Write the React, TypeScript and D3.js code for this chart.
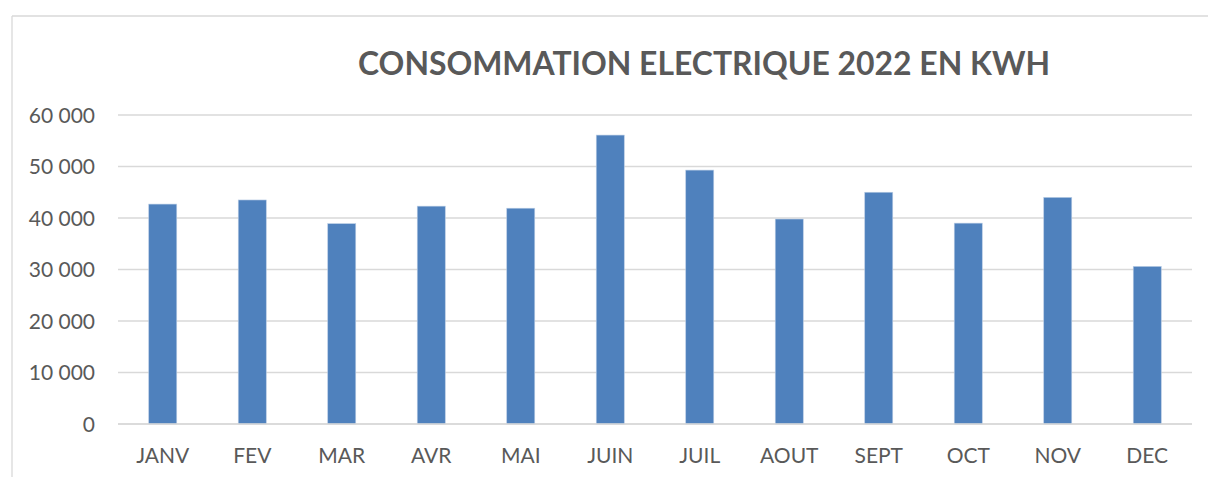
import React from "react";
import * as d3 from "d3";

const months = ["JANV", "FEV", "MAR", "AVR", "MAI", "JUIN", "JUIL", "AOUT", "SEPT", "OCT", "NOV", "DEC"];
const consumption = [42700, 43500, 38900, 42300, 41900, 56100, 49300, 39800, 45000, 39000, 44000, 30600];
const yTicks = [0, 10000, 20000, 30000, 40000, 50000, 60000];
const title = "CONSOMMATION ELECTRIQUE 2022 EN KWH";

const W = 1208;
const H = 477;
const plot = { left: 118, right: 1192, top: 115, bottom: 424 };
const font = "Lato, 'Open Sans', 'Liberation Sans', sans-serif";
const textColor = "#595959";
const gridColor = "#D9D9D9";

const fmt = (v: number) => d3.format(",")(v).replace(/,/g, " ");

export default function App() {
  const p = 0.687;
  const x = d3.scaleBand<string>().domain(months).range([plot.left, plot.right]).paddingInner(p).paddingOuter(p / 2);
  const y = d3.scaleLinear().domain([0, 60000]).range([plot.bottom, plot.top]);

  return (
    <svg width={W} height={H} style={{ position: "absolute", left: 0, top: 0, background: "#fff" }}>
      <rect x={0} y={0} width={W} height={H} fill="#fff" />
      {/* frame */}
      <line x1={12} y1={16} x2={W} y2={16} stroke={gridColor} strokeWidth={1.3} />
      <line x1={12} y1={16} x2={12} y2={H} stroke={gridColor} strokeWidth={1.3} />
      <text
        x={704}
        y={75}
        textAnchor="middle"
        fontFamily={font}
        fontWeight={700}
        fontSize={32}
        fill={textColor}
        textLength={692}
        lengthAdjust="spacingAndGlyphs"
      >
        {title}
      </text>
      {yTicks.map((t) => (
        <g key={t}>
          <line x1={plot.left} x2={plot.right} y1={y(t)} y2={y(t)} stroke={gridColor} strokeWidth={1.5} />
          <text x={95} y={y(t)} dy="0.36em" textAnchor="end" fontFamily={font} fontSize={21} fill={textColor}>
            {fmt(t)}
          </text>
        </g>
      ))}
      {months.map((m, i) => (
        <rect
          key={m}
          x={x(m)!}
          y={y(consumption[i])}
          width={x.bandwidth()}
          height={y(0) - y(consumption[i])}
          fill="#4F81BD"
          stroke="#B8CCE4"
          strokeWidth={0.6}
        />
      ))}
      <line x1={plot.left} x2={plot.right} y1={y(0)} y2={y(0)} stroke={gridColor} strokeWidth={1.5} />
      {months.map((m) => (
        <text
          key={m}
          x={x(m)! + x.bandwidth() / 2}
          y={463}
          textAnchor="middle"
          fontFamily={font}
          fontSize={21}
          fill={textColor}
        >
          {m}
        </text>
      ))}
    </svg>
  );
}
